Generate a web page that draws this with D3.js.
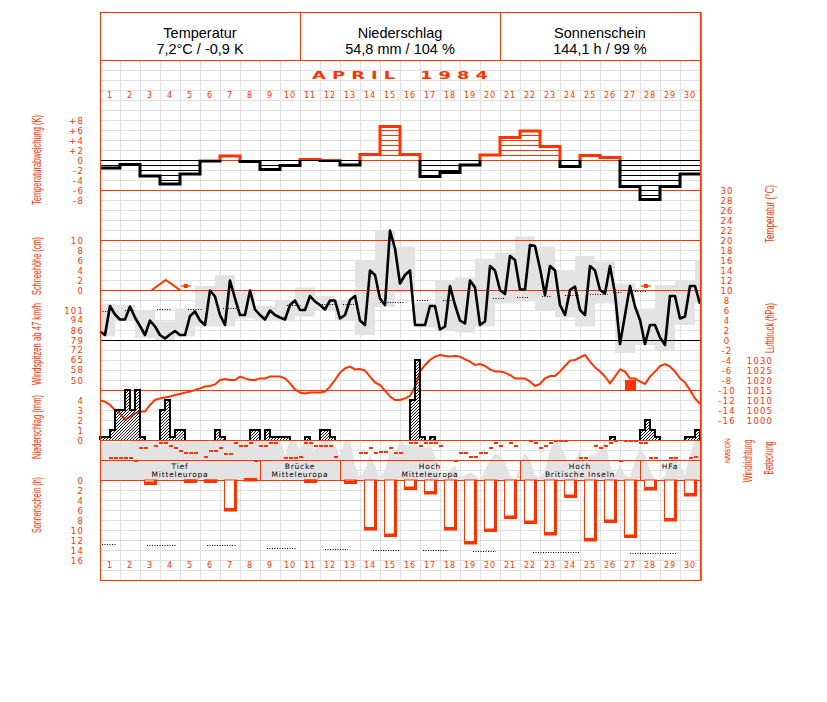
<!DOCTYPE html>
<html>
<head>
<meta charset="utf-8">
<script src="https://cdn.jsdelivr.net/npm/d3@7"></script>
<style>body{margin:0;background:#fff}</style>
</head>
<body>
<div id="chart"></div>
<script>
var width = 827,
    height = 702;

var red = '#ff3300',
    gridColor = '#e0e0e0',
    grayFill = '#e3e3e3';

// ---------- data ----------
var days = d3.range(1, 31);
var headerTitles = ['Temperatur', 'Niederschlag', 'Sonnenschein'];
var headerValues = ['7,2°C / -0,9 K', '54,8 mm / 104 %', '144,1 h / 99 %'];

// daily deviation of mean temperature (K)
var tempDev = [-1.6, -0.9, -3.2, -4.8, -2.8, -0.2, 0.8, -0.3, -1.9, -1.1,
               0.1, -0.1, -1.0, 1.1, 6.7, 1.1, -3.3, -2.5, -1.0, 1.0,
               4.5, 5.8, 2.7, -1.3, 0.9, 0.5, -5.3, -7.9, -5.3, -2.8];

// six-hourly temperature (°C), 1 Apr 00h .. 1 May 00h
var temp6h = [1.7, 1.0, 6.8, 5.1, 4.1, 4.1, 6.7, 4.5, 2.8, 1.0,
              3.9, 2.7, 1.0, 0.3, 1.1, 1.8, 1.0, 1.0, 4.8, 5.7,
              3.9, 3.0, 9.9, 8.7, 5.0, 3.0, 11.9, 8.3, 5.0, 5.0,
              9.9, 6.1, 5.0, 4.1, 5.9, 5.0, 4.5, 4.1, 7.0, 7.9,
              6.0, 6.0, 8.8, 7.7, 7.0, 6.1, 7.9, 7.9, 4.3, 5.0,
              8.0, 8.8, 3.9, 3.0, 13.9, 13.0, 8.3, 7.0, 21.9, 18.3,
              11.3, 13.0, 13.9, 3.0, 3.0, 3.0, 6.8, 6.8, 2.1, 2.7,
              10.8, 7.0, 3.9, 3.3, 11.9, 10.5, 3.0, 3.7, 14.8, 13.9,
              10.0, 9.2, 16.8, 16.0, 10.1, 10.1, 19.0, 18.8, 14.3, 9.0,
              14.8, 13.9, 7.0, 5.0, 10.0, 10.7, 6.0, 5.0, 14.8, 13.9,
              10.0, 9.3, 14.8, 9.3, -0.8, 5.0, 10.8, 6.7, 4.0, -0.8,
              3.0, 3.0, 0.5, -1.0, 8.8, 8.8, 4.3, 4.7, 10.8, 10.8,
              7.2];

// daily extremes (18h-18h), 31 boxes
var tMax = [7.2, 7.0, 6.0, 3.7, 6.3, 10.8, 13.0, 9.7, 6.8, 8.0,
            10.5, 8.8, 8.0, 15.9, 22.0, 18.7, 7.5, 12.0, 12.5, 16.3,
            17.5, 20.7, 18.7, 14.0, 16.8, 15.7, 11.3, 6.3, 11.0, 12.0, 16.0];
var tMin = [0.7, 4.0, 0.4, 0.0, 0.7, 2.7, 2.7, 4.3, 3.9, 3.7,
            4.7, 6.0, 4.0, 1.0, 6.6, 9.5, 2.5, 2.0, 1.5, 2.7,
            7.3, 7.7, 6.0, 4.5, 2.7, 7.3, -2.6, -1.0, -2.0, 3.0, 7.4];

// long-term mean temperature, dotted pieces (day fractions)
var tempNormFrom = [0, 1.25, 2.85, 4.4, 6.15, 9.35, 11.1, 12.15, 14.0, 15.85,
                    17.15, 19.65, 20.85, 22.1, 23.25, 24.5, 25.65, 26.75, 27.9, 29.15];
var tempNormTo = [0.5, 1.75, 3.6, 5.15, 7.0, 10.1, 11.75, 12.75, 15.25, 16.4,
                  17.75, 20.25, 21.4, 22.6, 24.0, 25.4, 26.1, 27.35, 28.5, 29.65];
var tempNormVal = [5.9, 6.0, 6.2, 6.3, 6.5, 7.0, 7.2, 7.3, 7.7, 8.0,
                   8.1, 8.5, 8.7, 8.9, 9.1, 9.3, 9.7, 9.9, 10.0, 10.1];

// snow depth (cm) at 7h, and days with patchy snow
var snowDays = [4];
var snowDepth = [2];
var snowTraceDays = [5, 28];

// wind gusts
var gustDays = [27];
var gustKmh = [50];

// six-hourly precipitation (mm)
var precip6h = [0.3, 0.3, 1, 3, 3, 5, 3, 5, 0.3, 0,
                0, 0, 3, 4, 0.3, 1, 1, 0, 0, 0,
                0, 0, 0, 1, 0.3, 0, 0, 0, 0, 0,
                1, 1, 0, 1, 0.3, 0.3, 0.3, 0.3, 0, 0,
                0, 0.3, 0, 0, 1, 1, 0.3, 0, 0, 0,
                0, 0, 0, 0, 0, 0, 0, 0, 0, 0,
                0, 0, 4, 8, 0.3, 0, 0.3, 0, 0, 0,
                0, 0, 0, 0, 0, 0, 0, 0, 0, 0,
                0, 0, 0, 0, 0, 0, 0, 0, 0, 0,
                0, 0, 0, 0, 0, 0, 0, 0, 0, 0,
                0, 0, 0.3, 0, 0, 0, 0, 0, 1, 2,
                1, 0.3, 0, 0, 0, 0, 0, 0.3, 0.3, 1];

// six-hourly pressure (hPa)
var pressure6h = [1009.7, 1009.2, 1007.5, 1005, 1003.3, 1000, 1001.7, 1003.3, 1004.2, 1004.2,
                  1007.5, 1010, 1010.8, 1011.2, 1011.7, 1012.5, 1013, 1013.7, 1014.2, 1015,
                  1015.8, 1016.7, 1017, 1017.8, 1020, 1020.5, 1020, 1020, 1021.7, 1020.8,
                  1020, 1020, 1020.8, 1020.8, 1021.7, 1021.7, 1021.7, 1020.8, 1018.3, 1015.3,
                  1013.7, 1013.3, 1013.8, 1013.8, 1013.8, 1014.2, 1016.7, 1020, 1023.7, 1025.8,
                  1026.7, 1025.3, 1025.5, 1024.7, 1021.7, 1018.8, 1017.5, 1014.7, 1011.7, 1010,
                  1010, 1010.8, 1012, 1016.7, 1024.2, 1027.5, 1030, 1031.7, 1032.5, 1032,
                  1031.7, 1032, 1031.7, 1030.3, 1029.2, 1027.5, 1028, 1027, 1025.3, 1024.2,
                  1024.2, 1023.7, 1022.5, 1020.8, 1020.8, 1020.8, 1019.2, 1017, 1018, 1020.8,
                  1022, 1022, 1024.2, 1027, 1029.7, 1030, 1031.3, 1032.5, 1029.2, 1026.3,
                  1024.2, 1021.7, 1018.3, 1021.7, 1025.3, 1024.2, 1020.8, 1020.8, 1019.2, 1018,
                  1021.7, 1024.2, 1027, 1028, 1026.7, 1024.2, 1020.8, 1018.7, 1015, 1010.8,
                  1008];

// six-hourly wind direction (degrees, null = calm / missing)
var windDir6h = [null, null, 315, 315, 315, 315, 315, 360, 135, 135,
                 null, 90, 45, 45, 90, 135, 180, 225, 225, 225,
                 null, 290, 180, 180, 135, 250, 250, 45, 90, 90,
                 45, 360, 90, 90, 45, 45, null, 315, 315, 315,
                 290, 45, 45, 90, 90, 90, 90, 290, null, null,
                 null, null, 225, 225, 135, 225, 200, 200, 135, 225,
                 225, null, 45, 45, 90, 45, 45, 45, 90, null,
                 null, 360, 225, 225, 290, 290, 225, 225, 135, 45,
                 90, null, 45, 90, null, null, 0, 45, 135, 90,
                 45, 0, 0, 0, null, null, 315, 315, null, 90,
                 135, 90, 45, 0, 360, 0, 0, 0, 45, 45,
                 315, 315, null, null, 315, 315, null, null, 315, 290];

// six-hourly cloud cover (octas)
var cloud6h = [8, 7.5, 7.5, 7.5, 7.5, 7.5, 7.5, 8, 8, 8,
               8, 8, 8, 8, 8, 8, 8, 8, 8, 8,
               8, 8, 7.5, 8, 8, 8, 8, 8, 8, 8,
               8, 8, 8, 7.5, 8, 8, 8, 5, 8, 8,
               6, 8, 8, 6, 8, 8, 8, 7, 5, 8,
               8, 3, 0.5, 2, 5, 3, 0.5, 2, 6, 5,
               8, 7, 7, 7, 6.5, 6.5, 7, 5, 1, 0.5,
               2, 3, 0.5, 1, 1.5, 1, 0, 2, 4, 5.3,
               5, 3.5, 1, 0, 3, 5.5, 4, 1, 0.5, 2,
               6, 8, 7, 5, 3, 4, 6, 3, 5, 5,
               6, 8, 3, 1, 3, 1, 0.5, 4, 6.5, 5,
               2, 0, 0, 1, 4, 5, 3, 1, 5, 8,
               8];

// Grosswetterlagen
var wtStart = [1, 9, 13, 22, 28];
var wtEnd = [8, 12, 21, 27, 30];
var wtLine1 = ['Tief', 'Brücke', 'Hoch', 'Hoch', 'HFa'];
var wtLine2 = ['Mitteleuropa', 'Mitteleuropa', 'Mitteleuropa', 'Britische Inseln', ''];

// daily sunshine (h)
var sunshine = [0, 0, 0.9, 0, 0.5, 0.5, 6.2, 0.2, 0, 0,
                0.5, 0, 0.7, 10, 11.3, 1.9, 2.8, 10, 12.8, 10.3,
                7.7, 8.7, 11, 3.5, 12.2, 8.5, 11.5, 2, 8.2, 3.2];
var sunNormFrom = [0.1, 2.35, 5.35, 8.35, 11.25, 13.65, 16.15, 18.65, 21.65, 26.5];
var sunNormTo = [0.8, 3.8, 6.8, 9.8, 12.4, 15.0, 17.4, 19.8, 24.0, 28.8];
var sunNormVal = [12.8, 13.0, 13.0, 13.5, 13.7, 13.9, 14.0, 14.1, 14.3, 14.5];

// tick labels
var devTicks = [8, 6, 4, 2, 0, -2, -4, -6, -8];
var snowTicks = [10, 8, 6, 4, 2, 0];
var gustTicks = [101, 94, 86, 79, 72, 65, 58, 50];
var precipTicks = [4, 3, 2, 1, 0];
var sunTicks = [0, 2, 4, 6, 8, 10, 12, 14, 16];
var tempTicks = d3.range(30, -17, -2);
var pressTicks = [1030, 1025, 1020, 1015, 1010, 1005, 1000];
var dirLetters = ['N', 'O', 'S', 'W', 'N'];

// ---------- scales ----------
var x = d3.scaleLinear().domain([0, 30]).range([100, 700]);
var xDay = d3.scaleBand().domain(days).range([100, 700]);
var yDev = d3.scaleLinear().domain([-8, 8]).range([200, 120]);
var yT = d3.scaleLinear().domain([-16, 30]).range([420, 190]);
var ySnow = d3.scaleLinear().domain([0, 10]).range([290, 240]);
var yGust = d3.scaleLinear().domain([50, 101]).range([380, 310]);
var yP = d3.scaleLinear().domain([0, 4]).range([440, 400]);
var yHpa = d3.scaleLinear().domain([1000, 1030]).range([420, 360]);
var yDir = d3.scaleLinear().domain([0, 360]).range([440.5, 460.5]);
var yCloud = d3.scaleLinear().domain([0, 8]).range([480, 440]);
var ySun = d3.scaleLinear().domain([0, 16]).range([480, 560]);

var svg = d3.select('#chart').append('svg')
    .attr('width', width)
    .attr('height', height)
    .style('font-family', 'DejaVu Sans, sans-serif');

svg.append('rect').attr('width', width).attr('height', height).attr('fill', '#fff');

var defs = svg.append('defs');
defs.append('pattern')
    .attr('id', 'hatch')
    .attr('patternUnits', 'userSpaceOnUse')
    .attr('width', 3).attr('height', 3)
    .append('path')
    .attr('d', 'M-1,1 l2,-2 M0,3 l3,-3 M2,4 l2,-2')
    .attr('stroke', '#000').attr('stroke-width', 0.9);
defs.append('clipPath').attr('id', 'clipPos')
    .append('rect').attr('x', 100).attr('y', 100).attr('width', 600).attr('height', yDev(0) - 100);
defs.append('clipPath').attr('id', 'clipNeg')
    .append('rect').attr('x', 100).attr('y', yDev(0)).attr('width', 600).attr('height', 60);
defs.append('clipPath').attr('id', 'clipPlot')
    .append('rect').attr('x', 100).attr('y', 60).attr('width', 600).attr('height', 520);

// ---------- grid ----------
var gGrid = svg.append('g')
    .attr('stroke', gridColor)
    .attr('shape-rendering', 'crispEdges');
gGrid.selectAll('line.v').data(d3.range(1, 30)).enter().append('line')
    .attr('x1', function(d){ return x(d) + 0.5; })
    .attr('x2', function(d){ return x(d) + 0.5; })
    .attr('y1', 60).attr('y2', 580);
gGrid.selectAll('line.h').data(d3.range(70, 580, 10)).enter().append('line')
    .attr('x1', 100).attr('x2', 700)
    .attr('y1', function(d){ return d + 0.5; })
    .attr('y2', function(d){ return d + 0.5; });

var plot = svg.append('g').attr('clip-path', 'url(#clipPlot)');

// ---------- temperature range boxes ----------
plot.selectAll('rect.tbox').data(tMax).enter().append('rect')
    .attr('x', function(d, i){ return Math.max(100, x(i - 0.25)); })
    .attr('width', function(d, i){ return Math.min(700, x(i + 0.75)) - Math.max(100, x(i - 0.25)); })
    .attr('y', function(d){ return yT(d); })
    .attr('height', function(d, i){ return yT(tMin[i]) - yT(d); })
    .attr('fill', grayFill);

// ---------- cloud cover ----------
plot.append('path')
    .datum(cloud6h)
    .attr('d', d3.area()
        .x(function(d, i){ return x(i / 4); })
        .y0(yCloud(0))
        .y1(function(d){ return yCloud(d); }))
    .attr('fill', grayFill);

// ---------- dotted normals ----------
plot.selectAll('line.tnorm').data(tempNormVal).enter().append('line')
    .attr('x1', function(d, i){ return x(tempNormFrom[i]); })
    .attr('x2', function(d, i){ return x(tempNormTo[i]); })
    .attr('y1', function(d){ return Math.round(yT(d)) + 0.5; })
    .attr('y2', function(d){ return Math.round(yT(d)) + 0.5; })
    .attr('stroke', '#000').attr('stroke-dasharray', '1,1.5');
plot.selectAll('line.snorm').data(sunNormVal).enter().append('line')
    .attr('x1', function(d, i){ return x(sunNormFrom[i]); })
    .attr('x2', function(d, i){ return x(sunNormTo[i]); })
    .attr('y1', function(d){ return Math.round(ySun(d)) + 0.5; })
    .attr('y2', function(d){ return Math.round(ySun(d)) + 0.5; })
    .attr('stroke', '#000').attr('stroke-dasharray', '1,1.5');

// ---------- reference lines ----------
var refRed = [yDev(-6), ySnow(10), ySnow(0), yP(5), yP(0), 460, ySun(0)];
svg.selectAll('line.ref').data(refRed).enter().append('line')
    .attr('x1', 100).attr('x2', 700)
    .attr('y1', function(d){ return d + 0.5; })
    .attr('y2', function(d){ return d + 0.5; })
    .attr('stroke', red).attr('shape-rendering', 'crispEdges');
svg.append('line')
    .attr('x1', 100).attr('x2', 700)
    .attr('y1', yT(0) + 0.5).attr('y2', yT(0) + 0.5)
    .attr('stroke', '#000').attr('shape-rendering', 'crispEdges');

// ---------- temperature deviation ----------
var gDev = svg.append('g').attr('shape-rendering', 'crispEdges');
tempDev.forEach(function(v, i){
    var s = v >= 0 ? 1 : -1;
    var levels = d3.range(0, Math.floor(Math.abs(v)) + 1);
    gDev.selectAll(null).data(levels).enter().append('line')
        .attr('x1', x(i)).attr('x2', x(i + 1))
        .attr('y1', function(k){ return yDev(s * k) + 0.5; })
        .attr('y2', function(k){ return yDev(s * k) + 0.5; })
        .attr('stroke', v >= 0 ? red : '#000');
});
var devPts = tempDev.map(function(v, i){ return [i, v]; }).concat([[30, tempDev[29]]]);
var devLine = d3.line().curve(d3.curveStepAfter)
    .x(function(d){ return x(d[0]); })
    .y(function(d){ return yDev(d[1]); });
svg.append('path').datum(devPts).attr('d', devLine)
    .attr('fill', 'none').attr('stroke', red).attr('stroke-width', 3)
    .attr('clip-path', 'url(#clipPos)');
svg.append('path').datum(devPts).attr('d', devLine)
    .attr('fill', 'none').attr('stroke', '#000').attr('stroke-width', 3)
    .attr('clip-path', 'url(#clipNeg)');

// ---------- snow ----------
snowDays.forEach(function(d, i){
    var t = d - 1 + 7 / 24;
    svg.append('path')
        .datum([[t - 0.7, 0], [t, snowDepth[i]], [t + 0.7, 0]])
        .attr('d', d3.line()
            .x(function(p){ return x(p[0]); })
            .y(function(p){ return ySnow(p[1]); }))
        .attr('fill', 'none').attr('stroke', red).attr('stroke-width', 2);
});
var gTrace = svg.selectAll('g.trace').data(snowTraceDays).enter().append('g');
gTrace.append('line')
    .attr('x1', function(d){ return x(d - 1 + 7 / 24) - 5; })
    .attr('x2', function(d){ return x(d - 1 + 7 / 24) + 5; })
    .attr('y1', ySnow(0.8)).attr('y2', ySnow(0.8))
    .attr('stroke', red).attr('stroke-width', 1.2);
gTrace.append('rect')
    .attr('x', function(d){ return x(d - 1 + 7 / 24) - 2; })
    .attr('y', ySnow(0.8) - 2)
    .attr('width', 4).attr('height', 4)
    .attr('fill', red);

// ---------- temperature line ----------
svg.append('path')
    .datum(temp6h)
    .attr('d', d3.line()
        .x(function(d, i){ return x(i / 4); })
        .y(function(d){ return yT(d); }))
    .attr('fill', 'none').attr('stroke', '#000').attr('stroke-width', 2.6)
    .attr('stroke-linejoin', 'round');

// ---------- wind gusts ----------
svg.selectAll('rect.gust').data(gustKmh).enter().append('rect')
    .attr('x', function(d, i){ return x(gustDays[i] - 1) + 5; })
    .attr('width', 11)
    .attr('y', function(d){ return yGust(d); })
    .attr('height', function(d){ return yP(5) - yGust(d); })
    .attr('fill', red);

// ---------- pressure ----------
svg.append('path')
    .datum(pressure6h)
    .attr('d', d3.line()
        .x(function(d, i){ return x(i / 4); })
        .y(function(d){ return yHpa(d); }))
    .attr('fill', 'none').attr('stroke', red).attr('stroke-width', 2);

// ---------- precipitation ----------
var runs = [], cur = null;
precip6h.forEach(function(v, i){
    if (v > 0) {
        if (!cur) { cur = [[i, 0]]; runs.push(cur); }
        cur.push([i, v]);
    } else if (cur) {
        cur.push([i, cur[cur.length - 1][1]], [i, 0]);
        cur = null;
    }
});
if (cur) cur.push([120, cur[cur.length - 1][1]], [120, 0]);
var pLine = d3.line().curve(d3.curveStepAfter)
    .x(function(d){ return x(d[0] / 4); })
    .y(function(d){ return yP(d[1]); });
var pArea = d3.area().curve(d3.curveStepAfter)
    .x(function(d){ return x(d[0] / 4); })
    .y0(yP(0))
    .y1(function(d){ return yP(d[1]); });
svg.selectAll('path.parea').data(runs).enter().append('path')
    .attr('d', pArea).attr('fill', 'url(#hatch)');
svg.selectAll('path.pline').data(runs).enter().append('path')
    .attr('d', pLine).attr('fill', 'none')
    .attr('stroke', '#000').attr('stroke-width', 2);

// ---------- wind direction ----------
var dirData = windDir6h.map(function(d, i){ return {i: i, d: d}; })
    .filter(function(o){ return o.d !== null; });
svg.selectAll('rect.dir').data(dirData).enter().append('rect')
    .attr('x', function(o){ return x(o.i / 4) - 1; })
    .attr('y', function(o){ return Math.round(yDir(o.d)) - 1; })
    .attr('width', 4).attr('height', 2)
    .attr('fill', red);

// ---------- weather types ----------
var gWt = svg.selectAll('g.wt').data(wtLine1).enter().append('g');
gWt.append('line')
    .attr('x1', function(d, i){ return x(wtEnd[i]) + 0.5; })
    .attr('x2', function(d, i){ return x(wtEnd[i]) + 0.5; })
    .attr('y1', 460).attr('y2', 480)
    .attr('stroke', red);
gWt.append('text')
    .attr('x', function(d, i){ return (x(wtStart[i] - 1) + x(wtEnd[i])) / 2; })
    .attr('y', 469)
    .attr('text-anchor', 'middle')
    .attr('font-size', 7.5).attr('letter-spacing', 0.8)
    .text(function(d){ return d; });
gWt.append('text')
    .attr('x', function(d, i){ return (x(wtStart[i] - 1) + x(wtEnd[i])) / 2; })
    .attr('y', 477)
    .attr('text-anchor', 'middle')
    .attr('font-size', 7.5).attr('letter-spacing', 0.8)
    .text(function(d, i){ return wtLine2[i]; });

// ---------- sunshine ----------
var sunData = sunshine.map(function(v, i){ return {i: i, v: v}; })
    .filter(function(o){ return o.v > 0; });
var gSun = svg.selectAll('g.sun').data(sunData).enter().append('g');
gSun.append('rect')
    .attr('x', function(o){ return x(o.i) + 4.5; })
    .attr('y', ySun(0))
    .attr('width', 12)
    .attr('height', function(o){ return ySun(o.v) - ySun(0); })
    .attr('fill', '#fff').attr('stroke', red);
gSun.append('path')
    .attr('d', function(o){
        var x0 = x(o.i) + 4, x1 = x(o.i) + 17, yb = ySun(o.v);
        return 'M' + (x1 - 1.5) + ',' + ySun(0) + 'V' + (yb - 1.5) + 'M' + x0 + ',' + (yb - 1.5) + 'H' + x1;
    })
    .attr('fill', 'none').attr('stroke', red).attr('stroke-width', 3);

// ---------- frame & header ----------
svg.append('rect')
    .attr('x', 100.5).attr('y', 12.5).attr('width', 600).attr('height', 568)
    .attr('fill', 'none').attr('stroke', red);
svg.append('line').attr('x1', 701).attr('x2', 701).attr('y1', 12).attr('y2', 581)
    .attr('stroke', red).attr('stroke-width', 1.5);
svg.append('line').attr('x1', 100).attr('x2', 700).attr('y1', 60.5).attr('y2', 60.5)
    .attr('stroke', red);
svg.selectAll('line.hdiv').data([300, 500]).enter().append('line')
    .attr('x1', function(d){ return d + 0.5; }).attr('x2', function(d){ return d + 0.5; })
    .attr('y1', 12).attr('y2', 60)
    .attr('stroke', red);
svg.selectAll('text.ht').data(headerTitles).enter().append('text')
    .attr('x', function(d, i){ return 200 + i * 200; })
    .attr('y', 38)
    .attr('text-anchor', 'middle')
    .style('font-family', 'Liberation Sans, Arial, sans-serif')
    .attr('font-size', 14.5)
    .text(function(d){ return d; });
svg.selectAll('text.hv').data(headerValues).enter().append('text')
    .attr('x', function(d, i){ return 200 + i * 200; })
    .attr('y', 54)
    .attr('text-anchor', 'middle')
    .style('font-family', 'Liberation Sans, Arial, sans-serif')
    .attr('font-size', 14.5)
    .text(function(d){ return d; });

svg.append('text')
    .attr('x', 312).attr('y', 79)
    .attr('textLength', 176).attr('lengthAdjust', 'spacingAndGlyphs')
    .attr('font-size', 10).attr('font-weight', 'bold')
    .attr('fill', red)
    .attr('xml:space', 'preserve')
    .text('A P R I L    1 9 8 4');

// day numbers
[95, 565].forEach(function(yy){
    var g = svg.append('g')
        .attr('transform', 'translate(0,' + yy + ')')
        .call(d3.axisBottom(xDay).tickSize(0).tickPadding(0));
    g.select('.domain').remove();
    g.selectAll('text')
        .attr('y', 0).attr('dy', '0.36em')
        .attr('fill', red)
        .attr('font-size', 8).attr('letter-spacing', 1)
        .style('font-family', 'DejaVu Sans, sans-serif');
});

// ---------- axes ----------
function styleAxis(g, anchor){
    g.select('.domain').remove();
    g.selectAll('text')
        .attr('fill', red)
        .attr('font-size', 8.5)
        .attr('letter-spacing', 1.2)
        .attr('dy', '0.36em')
        .style('font-family', 'DejaVu Sans, sans-serif');
    if (anchor) g.selectAll('text').attr('text-anchor', anchor).attr('x', 0);
}
function leftAxis(scale, values, fmt){
    var g = svg.append('g')
        .attr('transform', 'translate(84,0)')
        .call(d3.axisLeft(scale).tickValues(values).tickSize(0).tickPadding(0).tickFormat(fmt));
    styleAxis(g, null);
}
leftAxis(yDev, devTicks, function(d){ return d > 0 ? '+' + d : d; });
leftAxis(ySnow, snowTicks, function(d){ return d; });
leftAxis(yGust, gustTicks, function(d){ return d; });
leftAxis(yP, precipTicks, function(d){ return d; });
leftAxis(ySun, sunTicks, function(d){ return d; });

var gTemp = svg.append('g').attr('transform', 'translate(727,0)')
    .call(d3.axisRight(yT).tickValues(tempTicks).tickSize(0).tickPadding(0).tickFormat(function(d){ return d; }));
styleAxis(gTemp, 'middle');
var gPress = svg.append('g').attr('transform', 'translate(760,0)')
    .call(d3.axisRight(yHpa).tickValues(pressTicks).tickSize(0).tickPadding(0).tickFormat(function(d){ return d; }));
styleAxis(gPress, 'middle');

// wind direction letters, one per quarter of the compass
svg.selectAll('text.dirl').data(dirLetters).enter().append('text')
    .attr('transform', function(d, i){ return 'translate(727,' + yDir(i * 90) + ') rotate(90)'; })
    .attr('text-anchor', 'middle')
    .attr('dy', '0.35em')
    .attr('font-size', 7)
    .attr('fill', red)
    .text(function(d){ return d; });

// ---------- rotated titles ----------
var titles = [
    {t: 'Temperaturabweichung (K)', x: 37, y: 160, len: 90},
    {t: 'Schneehöhe (cm)', x: 37, y: 266, len: 58},
    {t: 'Windspitzen ab 47 km/h', x: 37, y: 344, len: 82},
    {t: 'Niederschlag (mm)', x: 37, y: 427, len: 64},
    {t: 'Sonnenschein (h)', x: 37, y: 505, len: 56},
    {t: 'Temperatur (°C)', x: 770, y: 214, len: 58},
    {t: 'Luftdruck (hPa)', x: 770, y: 328, len: 50},
    {t: 'Windrichtung', x: 748, y: 461, len: 43},
    {t: 'Bedeckung', x: 769, y: 458, len: 33}
];
svg.selectAll('text.title').data(titles).enter().append('text')
    .attr('transform', function(d){ return 'translate(' + d.x + ',' + d.y + ') rotate(-90)'; })
    .attr('text-anchor', 'middle')
    .attr('dy', '0.35em')
    .attr('textLength', function(d){ return d.len; })
    .attr('lengthAdjust', 'spacingAndGlyphs')
    .attr('font-size', 12)
    .attr('fill', red)
    .style('font-family', 'Liberation Sans, Arial, sans-serif')
    .text(function(d){ return d.t; });
</script>
</body>
</html>
